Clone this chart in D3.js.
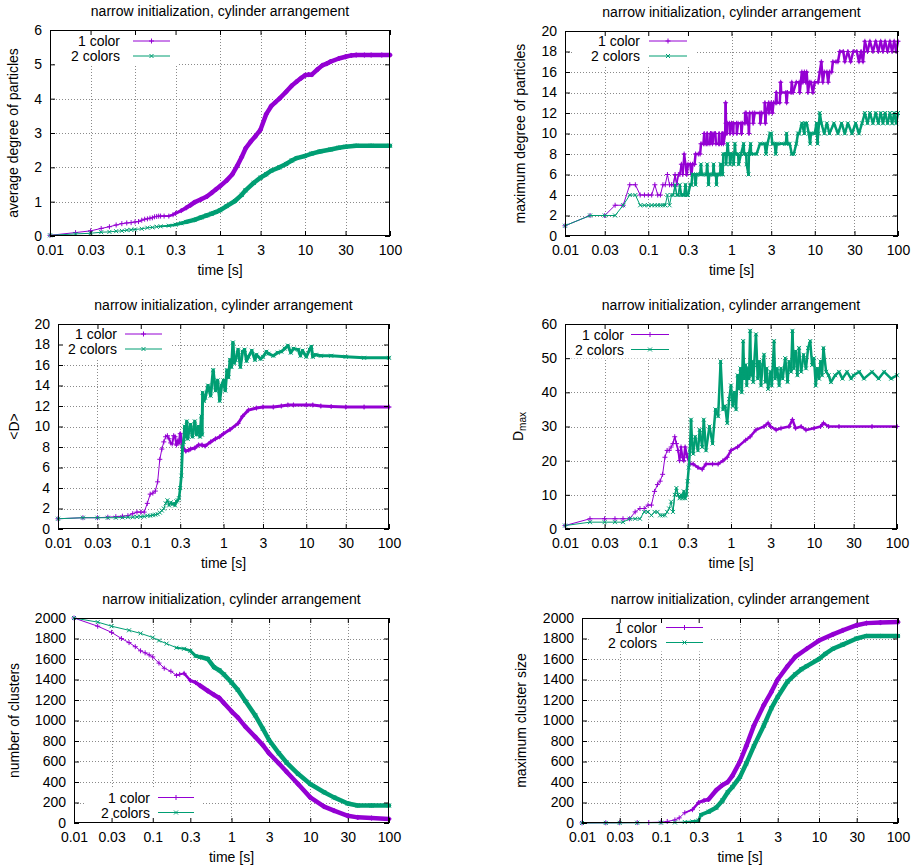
<!DOCTYPE html>
<html>
<head>
<meta charset="utf-8">
<script src="https://cdn.jsdelivr.net/npm/d3@7/dist/d3.min.js"></script>
<style>
body { margin: 0; background: #fff; }
svg { display: block; font-family: "Liberation Sans", Arial, sans-serif; }
</style>
</head>
<body>
<script>
// time axis + shared labels
var xTickVals = [0.01, 0.03, 0.1, 0.3, 1, 3, 10, 30, 100];
var xTickLabels = ["0.01", "0.03", "0.1", "0.3", "1", "3", "10", "30", "100"];
var seriesNames = ["1 color", "2 colors"];
var titleText = "narrow initialization, cylinder arrangement";

// average degree of particles
var avgDegree1 = [[0.01,0.02],[0.02,0.1],[0.03,0.15],[0.04,0.22],[0.05,0.27],[0.06,0.32],[0.07,0.36],[0.08,0.38],[0.09,0.39],[0.1,0.41],[0.11,0.42],[0.12,0.46],[0.13,0.49],[0.14,0.5],[0.15,0.52],[0.16,0.53],[0.17,0.56],[0.18,0.57],[0.19,0.58],[0.2,0.58],[0.22,0.58],[0.25,0.58],[0.28,0.62],[0.3,0.66],[0.35,0.74],[0.4,0.82],[0.45,0.9],[0.5,0.98],[0.6,1.07],[0.7,1.15],[0.8,1.26],[0.9,1.36],[1,1.45],[1.2,1.62],[1.4,1.8],[1.6,2.05],[1.8,2.3],[2,2.55],[2.3,2.75],[2.6,2.9],[3,3.1],[3.5,3.55],[4,3.78],[4.5,3.9],[5,4],[6,4.2],[7,4.38],[8,4.5],[9,4.6],[10,4.68],[11,4.7],[12,4.7],[14,4.85],[16,4.97],[18,5.02],[20,5.08],[25,5.17],[30,5.22],[35,5.26],[40,5.27],[50,5.27],[60,5.27],[80,5.27],[100,5.27]];
var avgDegree2 = [[0.01,0.02],[0.02,0.06],[0.03,0.08],[0.04,0.11],[0.05,0.12],[0.06,0.14],[0.07,0.15],[0.08,0.17],[0.09,0.18],[0.1,0.19],[0.12,0.21],[0.14,0.24],[0.16,0.25],[0.18,0.27],[0.2,0.28],[0.25,0.3],[0.3,0.33],[0.35,0.37],[0.4,0.41],[0.5,0.47],[0.6,0.54],[0.7,0.6],[0.8,0.65],[0.9,0.7],[1,0.75],[1.2,0.87],[1.5,1.02],[1.8,1.2],[2,1.33],[2.5,1.55],[3,1.7],[3.5,1.8],[4,1.9],[5,2],[6,2.1],[7,2.2],[8,2.27],[10,2.33],[12,2.4],[15,2.46],[20,2.52],[25,2.57],[30,2.6],[40,2.63],[60,2.63],[100,2.63]];

// maximum degree of particles
var maxDegree1 = [[0.01,1],[0.02,2],[0.03,2],[0.04,3],[0.05,3],[0.06,5],[0.07,5],[0.08,4],[0.09,4],[0.1,4],[0.11,4],[0.12,5],[0.13,4],[0.14,4],[0.15,5],[0.16,5],[0.17,6],[0.18,5],[0.19,5],[0.2,5],[0.21,6],[0.22,5],[0.23,6],[0.24,6],[0.25,7],[0.26,6],[0.27,8],[0.28,7],[0.29,6],[0.3,7],[0.32,7],[0.33,6],[0.34,7],[0.36,7],[0.37,8],[0.4,8],[0.42,8],[0.43,9],[0.46,9],[0.47,10],[0.48,9],[0.5,9],[0.51,10],[0.52,9],[0.55,9],[0.56,10],[0.58,10],[0.59,9],[0.62,10],[0.64,10],[0.65,9],[0.7,9],[0.71,10],[0.72,9],[0.76,9],[0.77,10],[0.79,10],[0.8,9],[0.84,10],[0.85,13],[0.86,11],[0.88,10],[0.9,11],[0.95,11],[0.96,10],[1,11],[1.05,10],[1.06,11],[1.15,11],[1.16,10],[1.2,11],[1.3,11],[1.32,10],[1.35,11],[1.45,11],[1.46,12],[1.5,12],[1.55,11],[1.6,11],[1.62,10],[1.65,12],[1.8,12],[1.82,11],[1.9,12],[2.2,12],[2.22,11],[2.3,12],[2.5,12],[2.52,13],[2.55,11],[2.6,12],[2.8,13],[2.82,12],[3,13],[3.1,12],[3.2,13],[3.4,13],[3.45,14],[3.5,13],[3.8,13],[3.9,15],[3.95,14],[4.5,14],[4.6,13],[4.7,14],[5.2,14],[5.3,15],[5.5,14],[6,15],[6.5,15],[6.6,14],[6.8,15],[7,16],[7.2,15],[7.5,16],[7.8,15],[8,16],[8.3,14],[8.6,15],[9,15],[9.5,14],[10,15],[11,15],[11.5,16],[12,17],[12.5,15],[13,16],[14,16],[14.5,15],[15,16],[16,16],[16.5,17],[18,17],[19,17],[20,18],[22,18],[23,17],[25,18],[27,17],[29,18],[32,18],[34,17],[36,18],[38,17],[40,19],[43,18],[46,19],[50,18],[54,19],[58,18],[62,19],[66,18],[70,19],[75,18],[80,19],[85,18],[90,19],[95,18],[100,19]];
var maxDegree2 = [[0.01,1],[0.02,2],[0.03,2],[0.04,2],[0.05,3],[0.06,4],[0.07,4],[0.08,3],[0.09,3],[0.1,3],[0.11,3],[0.12,3],[0.13,3],[0.14,3],[0.15,3],[0.16,3],[0.17,4],[0.18,3],[0.19,4],[0.2,4],[0.21,5],[0.22,4],[0.23,4],[0.24,5],[0.25,4],[0.26,4],[0.27,4],[0.28,5],[0.29,4],[0.3,4],[0.32,5],[0.33,5],[0.34,6],[0.36,6],[0.37,5],[0.38,6],[0.42,6],[0.43,7],[0.44,6],[0.5,6],[0.51,7],[0.52,6],[0.53,5],[0.54,6],[0.6,6],[0.61,7],[0.62,6],[0.65,6],[0.66,5],[0.67,6],[0.73,6],[0.74,7],[0.76,7],[0.78,6],[0.8,8],[0.85,8],[0.86,7],[0.88,8],[0.9,9],[0.92,8],[0.95,8],[0.96,7],[1,8],[1.05,8],[1.06,7],[1.1,9],[1.12,8],[1.2,8],[1.22,7],[1.3,8],[1.4,9],[1.42,8],[1.5,8],[1.52,7],[1.6,6],[1.62,8],[1.7,9],[1.72,8],[2,8],[2.2,9],[2.5,9],[2.6,8],[2.7,9],[2.9,10],[3,10],[3.1,9],[3.3,9],[3.4,8],[3.5,9],[4,9],[4.5,9],[4.6,10],[4.7,9],[5,9],[5.3,8],[5.6,8],[6,9],[6.3,10],[6.5,10],[7,11],[7.5,10],[7.6,11],[8,11],[8.5,10],[8.8,9],[9,10],[10,10],[10.5,11],[10.8,9],[11,10],[11.5,12],[12,11],[13,10],[14,11],[15,10],[17,11],[19,10],[21,11],[23,10],[25,11],[28,10],[31,11],[34,10],[37,11],[40,12],[43,11],[46,12],[50,11],[54,12],[58,11],[62,12],[66,11],[70,12],[75,11],[80,12],[85,11],[90,12],[95,11],[100,12]];

// <D>
var meanD1 = [[0.01,1],[0.02,1.1],[0.03,1.1],[0.04,1.15],[0.05,1.2],[0.06,1.25],[0.07,1.3],[0.08,1.5],[0.09,1.65],[0.1,1.65],[0.11,1.65],[0.12,2.5],[0.13,3.4],[0.14,3.5],[0.15,3.7],[0.16,4.6],[0.17,6.8],[0.18,7.8],[0.19,8.5],[0.2,9],[0.21,9.1],[0.22,8.8],[0.23,8.4],[0.24,8.3],[0.25,9.1],[0.26,9],[0.27,8.2],[0.28,8.6],[0.29,8.4],[0.3,9.3],[0.32,8],[0.35,7.6],[0.38,7.7],[0.4,7.8],[0.45,7.9],[0.5,8.2],[0.55,8.2],[0.6,8.1],[0.7,8.5],[0.8,8.8],[0.9,9],[1,9.3],[1.2,9.7],[1.5,10.3],[1.7,11],[2,11.6],[2.5,11.8],[3,11.9],[4,11.9],[5,12],[6,12.1],[7,12.1],[10,12.1],[12,12.1],[15,12],[20,11.95],[30,11.9],[50,11.9],[100,11.9]];
var meanD2 = [[0.01,1],[0.02,1.1],[0.03,1.1],[0.04,1.1],[0.05,1.1],[0.06,1.12],[0.07,1.15],[0.08,1.15],[0.09,1.18],[0.1,1.2],[0.11,1.22],[0.12,1.3],[0.13,1.3],[0.14,1.35],[0.15,1.4],[0.16,1.45],[0.17,1.6],[0.18,1.8],[0.19,2],[0.2,2.5],[0.21,2.8],[0.22,2.3],[0.23,2.6],[0.24,2.4],[0.25,2.5],[0.26,2.3],[0.27,2.7],[0.28,2.8],[0.29,3],[0.3,4],[0.31,5.2],[0.32,8],[0.33,8.5],[0.34,10],[0.35,9],[0.36,10.5],[0.37,8.8],[0.38,9.5],[0.4,10.2],[0.42,9],[0.45,10.5],[0.47,9.2],[0.5,10],[0.52,9],[0.54,11],[0.55,9.2],[0.56,13.3],[0.58,12.5],[0.6,12.8],[0.65,14],[0.7,13],[0.75,15.5],[0.8,13.5],[0.85,14.5],[0.9,12.5],[0.95,14],[1,14.5],[1.05,13.5],[1.1,15.5],[1.15,14.8],[1.2,16.5],[1.25,15.8],[1.3,18.2],[1.35,16.2],[1.4,16.5],[1.5,17.5],[1.6,15.8],[1.7,17.3],[1.8,17.5],[1.9,16.4],[2,16.8],[2.2,17.4],[2.4,16.5],[2.5,17],[2.8,16.6],[3,16.8],[3.3,17.3],[3.5,17.1],[4,16.9],[4.5,17.2],[5,17.3],[5.5,17.6],[6,17.9],[6.5,17.2],[7,17.6],[8,17.5],[8.5,16.9],[9,17.4],[10,16.8],[11,17.5],[11.5,17.8],[12,16.8],[13,17],[15,16.9],[20,16.9],[30,16.8],[50,16.7],[100,16.7]];

// D_max
var dMax1 = [[0.01,1],[0.02,3],[0.03,3],[0.04,3],[0.05,3],[0.06,3],[0.07,5],[0.08,6],[0.09,6],[0.1,7],[0.11,7],[0.12,11],[0.13,13],[0.14,14],[0.15,16],[0.16,21],[0.17,23],[0.18,23],[0.19,24],[0.2,25],[0.21,27],[0.22,25],[0.23,23],[0.24,20],[0.25,24],[0.26,21],[0.27,20],[0.28,24],[0.29,22],[0.3,21],[0.32,19],[0.35,19],[0.4,18],[0.45,17.5],[0.5,19],[0.6,19],[0.7,19],[0.8,20],[0.9,21],[1,23],[1.2,24],[1.5,26],[1.7,27],[2,29],[2.5,30],[2.8,31],[3,30],[3.5,29],[4,29.5],[5,30],[5.5,32],[6,29.5],[7,30],[8,29],[10,29.5],[12,30],[13,31],[15,30],[20,30],[50,30],[100,30]];
var dMax2 = [[0.01,1],[0.02,2],[0.03,2],[0.04,2],[0.05,2],[0.06,3],[0.07,3],[0.08,3],[0.09,5],[0.1,5],[0.11,4],[0.12,5],[0.13,5],[0.14,4],[0.15,4],[0.16,4],[0.17,5],[0.18,6],[0.19,8],[0.2,5],[0.21,10],[0.22,12],[0.23,10],[0.24,9],[0.25,10],[0.26,9],[0.27,11],[0.28,9],[0.29,10],[0.3,14],[0.31,18],[0.32,23],[0.33,32],[0.34,25],[0.35,22],[0.37,27],[0.4,23],[0.42,29],[0.45,24],[0.47,32],[0.5,23],[0.55,30],[0.6,25],[0.65,35],[0.7,33],[0.75,49],[0.8,35],[0.85,36],[0.9,31],[0.95,38],[1,42],[1.05,36],[1.1,40],[1.15,35],[1.2,45],[1.25,41],[1.3,47],[1.35,40],[1.4,55],[1.45,44],[1.5,48],[1.55,42],[1.6,47],[1.65,44],[1.7,58],[1.75,45],[1.8,49],[1.85,43],[1.9,48],[2,57],[2.1,44],[2.2,49],[2.3,42],[2.4,48],[2.5,51],[2.6,43],[2.7,47],[2.8,41],[3,46],[3.1,42],[3.3,55],[3.4,44],[3.6,47],[3.8,42],[4,47],[4.2,44],[4.5,50],[4.8,43],[5,49],[5.3,46],[5.5,58],[5.7,47],[6,52],[6.3,45],[6.6,53],[7,46],[7.5,51],[8,47],[8.5,53],[9,55],[9.5,48],[10,50],[10.5,42],[11,47],[11.5,44],[12,49],[12.5,45],[13,53],[14,46],[15,45],[16,43],[18,45],[20,46],[22,44],[25,46],[28,44],[30,45],[35,46],[40,44],[50,46],[60,44],[70,46],[85,44],[100,45]];

// number of clusters
var clusters1 = [[0.01,2000],[0.02,1920],[0.03,1860],[0.04,1800],[0.05,1760],[0.06,1720],[0.07,1680],[0.08,1660],[0.09,1640],[0.1,1620],[0.12,1560],[0.14,1510],[0.17,1480],[0.2,1440],[0.22,1450],[0.25,1460],[0.3,1390],[0.35,1370],[0.4,1340],[0.5,1290],[0.6,1250],[0.7,1220],[0.8,1170],[1,1090],[1.2,1030],[1.5,940],[2,840],[2.5,760],[3,680],[4,580],[5,500],[7,380],[10,250],[15,160],[20,120],[30,70],[40,55],[60,48],[100,40]];
var clusters2 = [[0.01,2000],[0.02,1960],[0.03,1920],[0.05,1880],[0.07,1850],[0.1,1810],[0.12,1780],[0.15,1750],[0.2,1710],[0.25,1700],[0.3,1680],[0.35,1630],[0.4,1620],[0.5,1600],[0.6,1520],[0.7,1490],[0.8,1450],[1,1370],[1.2,1300],[1.5,1190],[2,1050],[2.5,920],[3,810],[4,680],[5,590],[7,480],[10,380],[15,300],[20,250],[30,190],[40,170],[60,170],[100,170]];

// maximum cluster size
var maxCluster1 = [[0.01,1],[0.02,2],[0.03,3],[0.05,4],[0.07,5],[0.1,8],[0.12,15],[0.15,30],[0.17,50],[0.2,100],[0.25,130],[0.3,200],[0.35,220],[0.4,230],[0.5,320],[0.6,370],[0.7,400],[0.8,460],[1,600],[1.2,750],[1.5,950],[2,1150],[2.5,1280],[3,1400],[4,1530],[5,1620],[7,1700],[10,1780],[15,1840],[20,1880],[30,1930],[40,1950],[60,1955],[100,1960]];
var maxCluster2 = [[0.01,0],[0.02,1],[0.03,1],[0.05,2],[0.1,3],[0.15,5],[0.2,10],[0.25,15],[0.3,25],[0.32,80],[0.4,110],[0.5,150],[0.6,220],[0.7,300],[0.8,350],[1,450],[1.2,580],[1.5,750],[2,950],[2.5,1120],[3,1230],[4,1380],[5,1450],[6,1500],[7,1530],[10,1600],[12,1650],[15,1700],[20,1740],[30,1800],[40,1825],[60,1825],[100,1825]];

var colors = ["#9400d3", "#009e73"];

var panels = [
  { box: [50, 390, 30, 236], yMax: 6, yStep: 1, ylabel: "average degree of particles", ylx: 13, band: 4.5,
    leg: [120, 133, 170, 41], data: [avgDegree1, avgDegree2] },
  { box: [565, 898, 31, 236], yMax: 20, yStep: 2, ylabel: "maximum degree of particles", ylx: 520, band: 2.5,
    leg: [640, 649, 687, 41], data: [maxDegree1, maxDegree2] },
  { box: [58, 389, 324, 529], yMax: 20, yStep: 2, ylabel: "<D>", ylx: 14, band: 3,
    leg: [117, 125, 162, 334], data: [meanD1, meanD2] },
  { box: [565, 897, 324, 529], yMax: 60, yStep: 10, ylabel: "D", sub: "max", ylx: 518, band: 2.5,
    leg: [624, 631, 669, 334.5], data: [dMax1, dMax2] },
  { box: [74, 389, 618, 823], yMax: 2000, yStep: 200, ylabel: "number of clusters", ylx: 14, band: 4.5,
    leg: [150, 158, 194, 797.5], data: [clusters1, clusters2] },
  { box: [582, 898, 618, 823], yMax: 2000, yStep: 200, ylabel: "maximum cluster size", ylx: 521, band: 4.5,
    leg: [657, 666, 703, 627.5], data: [maxCluster1, maxCluster2] }
];
var rowGap = 15;

var svg = d3.select(document.body).append("svg")
    .attr("width", 914)
    .attr("height", 868);

function marker(k, s) {
  // gnuplot pt 1 "+" and pt 2 "x"
  if (k == 0) return "M" + (-s) + ",0H" + s + "M0," + (-s) + "V" + s;
  return "M" + (-s) + "," + (-s) + "L" + s + "," + s + "M" + (-s) + "," + s + "L" + s + "," + (-s);
}

panels.forEach(function (p) {
  var L = p.box[0], R = p.box[1], T = p.box[2], B = p.box[3];
  var x = d3.scaleLog().domain([0.01, 100]).range([L, R]);
  var y = d3.scaleLinear().domain([0, p.yMax]).range([B, T]);
  var yTicks = d3.range(0, p.yMax + p.yStep / 2, p.yStep);
  var g = svg.append("g");

  // grid
  g.append("g").selectAll("line").data(xTickVals.slice(1, -1)).join("line")
      .attr("x1", d => Math.round(x(d)) + 0.5).attr("x2", d => Math.round(x(d)) + 0.5)
      .attr("y1", T).attr("y2", B)
      .attr("stroke", "#8a8a8a").attr("stroke-dasharray", "1,2");
  g.append("g").selectAll("line").data(yTicks.slice(1, -1)).join("line")
      .attr("y1", d => Math.round(y(d)) + 0.5).attr("y2", d => Math.round(y(d)) + 0.5)
      .attr("x1", L).attr("x2", R)
      .attr("stroke", "#8a8a8a").attr("stroke-dasharray", "1,2");

  // legend box (opaque)
  var lg = p.leg;
  g.append("rect")
      .attr("x", lg[0] - 66).attr("y", lg[3] - 10)
      .attr("width", lg[2] + 8 - (lg[0] - 66)).attr("height", rowGap + 19)
      .attr("fill", "#fff");

  // series
  p.data.forEach(function (s, k) {
    var c = colors[k];
    var line = d3.line().x(d => x(d[0])).y(d => y(d[1]));
    g.append("path").attr("d", line(s)).attr("fill", "none")
        .attr("stroke", c).attr("stroke-width", 1);
    // dense region: overlapping markers make a band
    var pairs = d3.pairs(s).filter(d => d[1][0] > 0.2);
    g.append("g").selectAll("line").data(pairs).join("line")
        .attr("x1", d => x(d[0][0])).attr("y1", d => y(d[0][1]))
        .attr("x2", d => x(d[1][0])).attr("y2", d => y(d[1][1]))
        .attr("stroke", c).attr("stroke-linecap", "round")
        .attr("stroke-width", d => Math.min(p.band, 1 + (Math.log10(d[1][0]) - Math.log10(0.2)) * 9));
    g.append("g").selectAll("path").data(s).join("path")
        .attr("transform", d => "translate(" + x(d[0]) + "," + y(d[1]) + ")")
        .attr("d", marker(k, k == 0 ? 2.5 : 2))
        .attr("stroke", c).attr("stroke-width", 1).attr("fill", "none");

    // key
    var ky = lg[3] + k * rowGap;
    g.append("text").attr("x", lg[0]).attr("y", ky)
        .attr("text-anchor", "end").attr("dominant-baseline", "central")
        .attr("font-size", 14).text(seriesNames[k]);
    g.append("line").attr("x1", lg[1]).attr("x2", lg[2]).attr("y1", ky).attr("y2", ky)
        .attr("stroke", c).attr("stroke-width", 1);
    g.append("path").attr("transform", "translate(" + (lg[1] + lg[2]) / 2 + "," + ky + ")")
        .attr("d", marker(k, k == 0 ? 2.5 : 2))
        .attr("stroke", c).attr("fill", "none");
  });

  // axes, ticks inward and mirrored
  var ax = [
    d3.axisBottom(x).tickValues(xTickVals).tickFormat((d, i) => xTickLabels[i]),
    d3.axisLeft(y).tickValues(yTicks).tickFormat(d3.format("d")),
    d3.axisTop(x).tickValues(xTickVals).tickFormat(""),
    d3.axisRight(y).tickValues(yTicks).tickFormat("")
  ];
  var pos = ["translate(0," + B + ")", "translate(" + L + ",0)", "translate(0," + T + ")", "translate(" + R + ",0)"];
  ax.forEach(function (a, i) {
    var ag = g.append("g").attr("transform", pos[i])
        .call(a.tickSizeInner(-5).tickSizeOuter(0).tickPadding(i == 0 ? 9 : 8));
    ag.select(".domain").remove();
    ag.selectAll("line").attr("stroke", "#000");
    ag.selectAll("text").attr("font-size", 14).attr("font-family", null).attr("fill", "#000");
  });
  g.append("rect").attr("x", L + 0.5).attr("y", T + 0.5)
      .attr("width", R - L - 1).attr("height", B - T - 1)
      .attr("fill", "none").attr("stroke", "#000");

  // titles and labels
  g.append("text").attr("x", (L + R) / 2).attr("y", T - 19)
      .attr("text-anchor", "middle").attr("dominant-baseline", "central")
      .attr("font-size", 14).text(titleText);
  g.append("text").attr("x", (L + R) / 2).attr("y", B + 34)
      .attr("text-anchor", "middle").attr("dominant-baseline", "central")
      .attr("font-size", 14).text("time [s]");
  var yl = g.append("text")
      .attr("transform", "translate(" + p.ylx + "," + (T + B) / 2 + ") rotate(-90)")
      .attr("text-anchor", "middle").attr("dominant-baseline", "central")
      .attr("font-size", 14).text(p.ylabel);
  if (p.sub) {
    yl.append("tspan").attr("font-size", 10).attr("dy", 4).text(p.sub);
  }
});
</script>
</body>
</html>
